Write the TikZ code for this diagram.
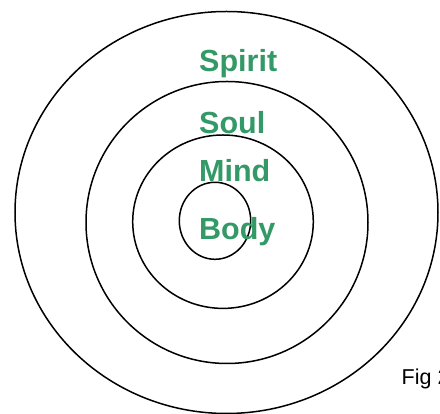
\documentclass[tikz,border=0pt]{standalone}
\usepackage{fontspec}
\setmainfont{Liberation Sans}
\usepackage{xcolor}
\usepackage{tikz}
\definecolor{levelgreen}{RGB}{51,153,102}
\newcommand{\ring}[4]{%
  \draw[line width=1.5pt] (#1,#2) ellipse ({#3} and {#4});%
}
\newcommand{\level}[3]{%
  \node[anchor=base west,inner sep=0pt,text=levelgreen,
    font=\fontsize{30.5}{32}\selectfont\bfseries] (#1) at (199,#2) {#3};%
}

\begin{document}
\begin{tikzpicture}[x=1pt,y=1pt]
  \useasboundingbox (0,0) rectangle (440,414);
  \clip (0,0) rectangle (440,414);
  \ring{226.5}{201.5}{211.5}{201}
  \ring{227}{191.5}{141}{141}
  \ring{223}{192.3}{90.3}{86.7}
  \ring{215}{193.2}{35.7}{38.5}
  \level{spirit}{342.3}{Spirit}
  \level{soul}{280.7}{Soul}
  \level{mind}{232.3}{Mind}
  \level{body}{174.7}{Body}
  \node[anchor=base west,inner sep=0pt,font=\fontsize{21.5}{24}\selectfont]
    (fig) at (401.5,29) {Fig 2};
\end{tikzpicture}
\end{document}
